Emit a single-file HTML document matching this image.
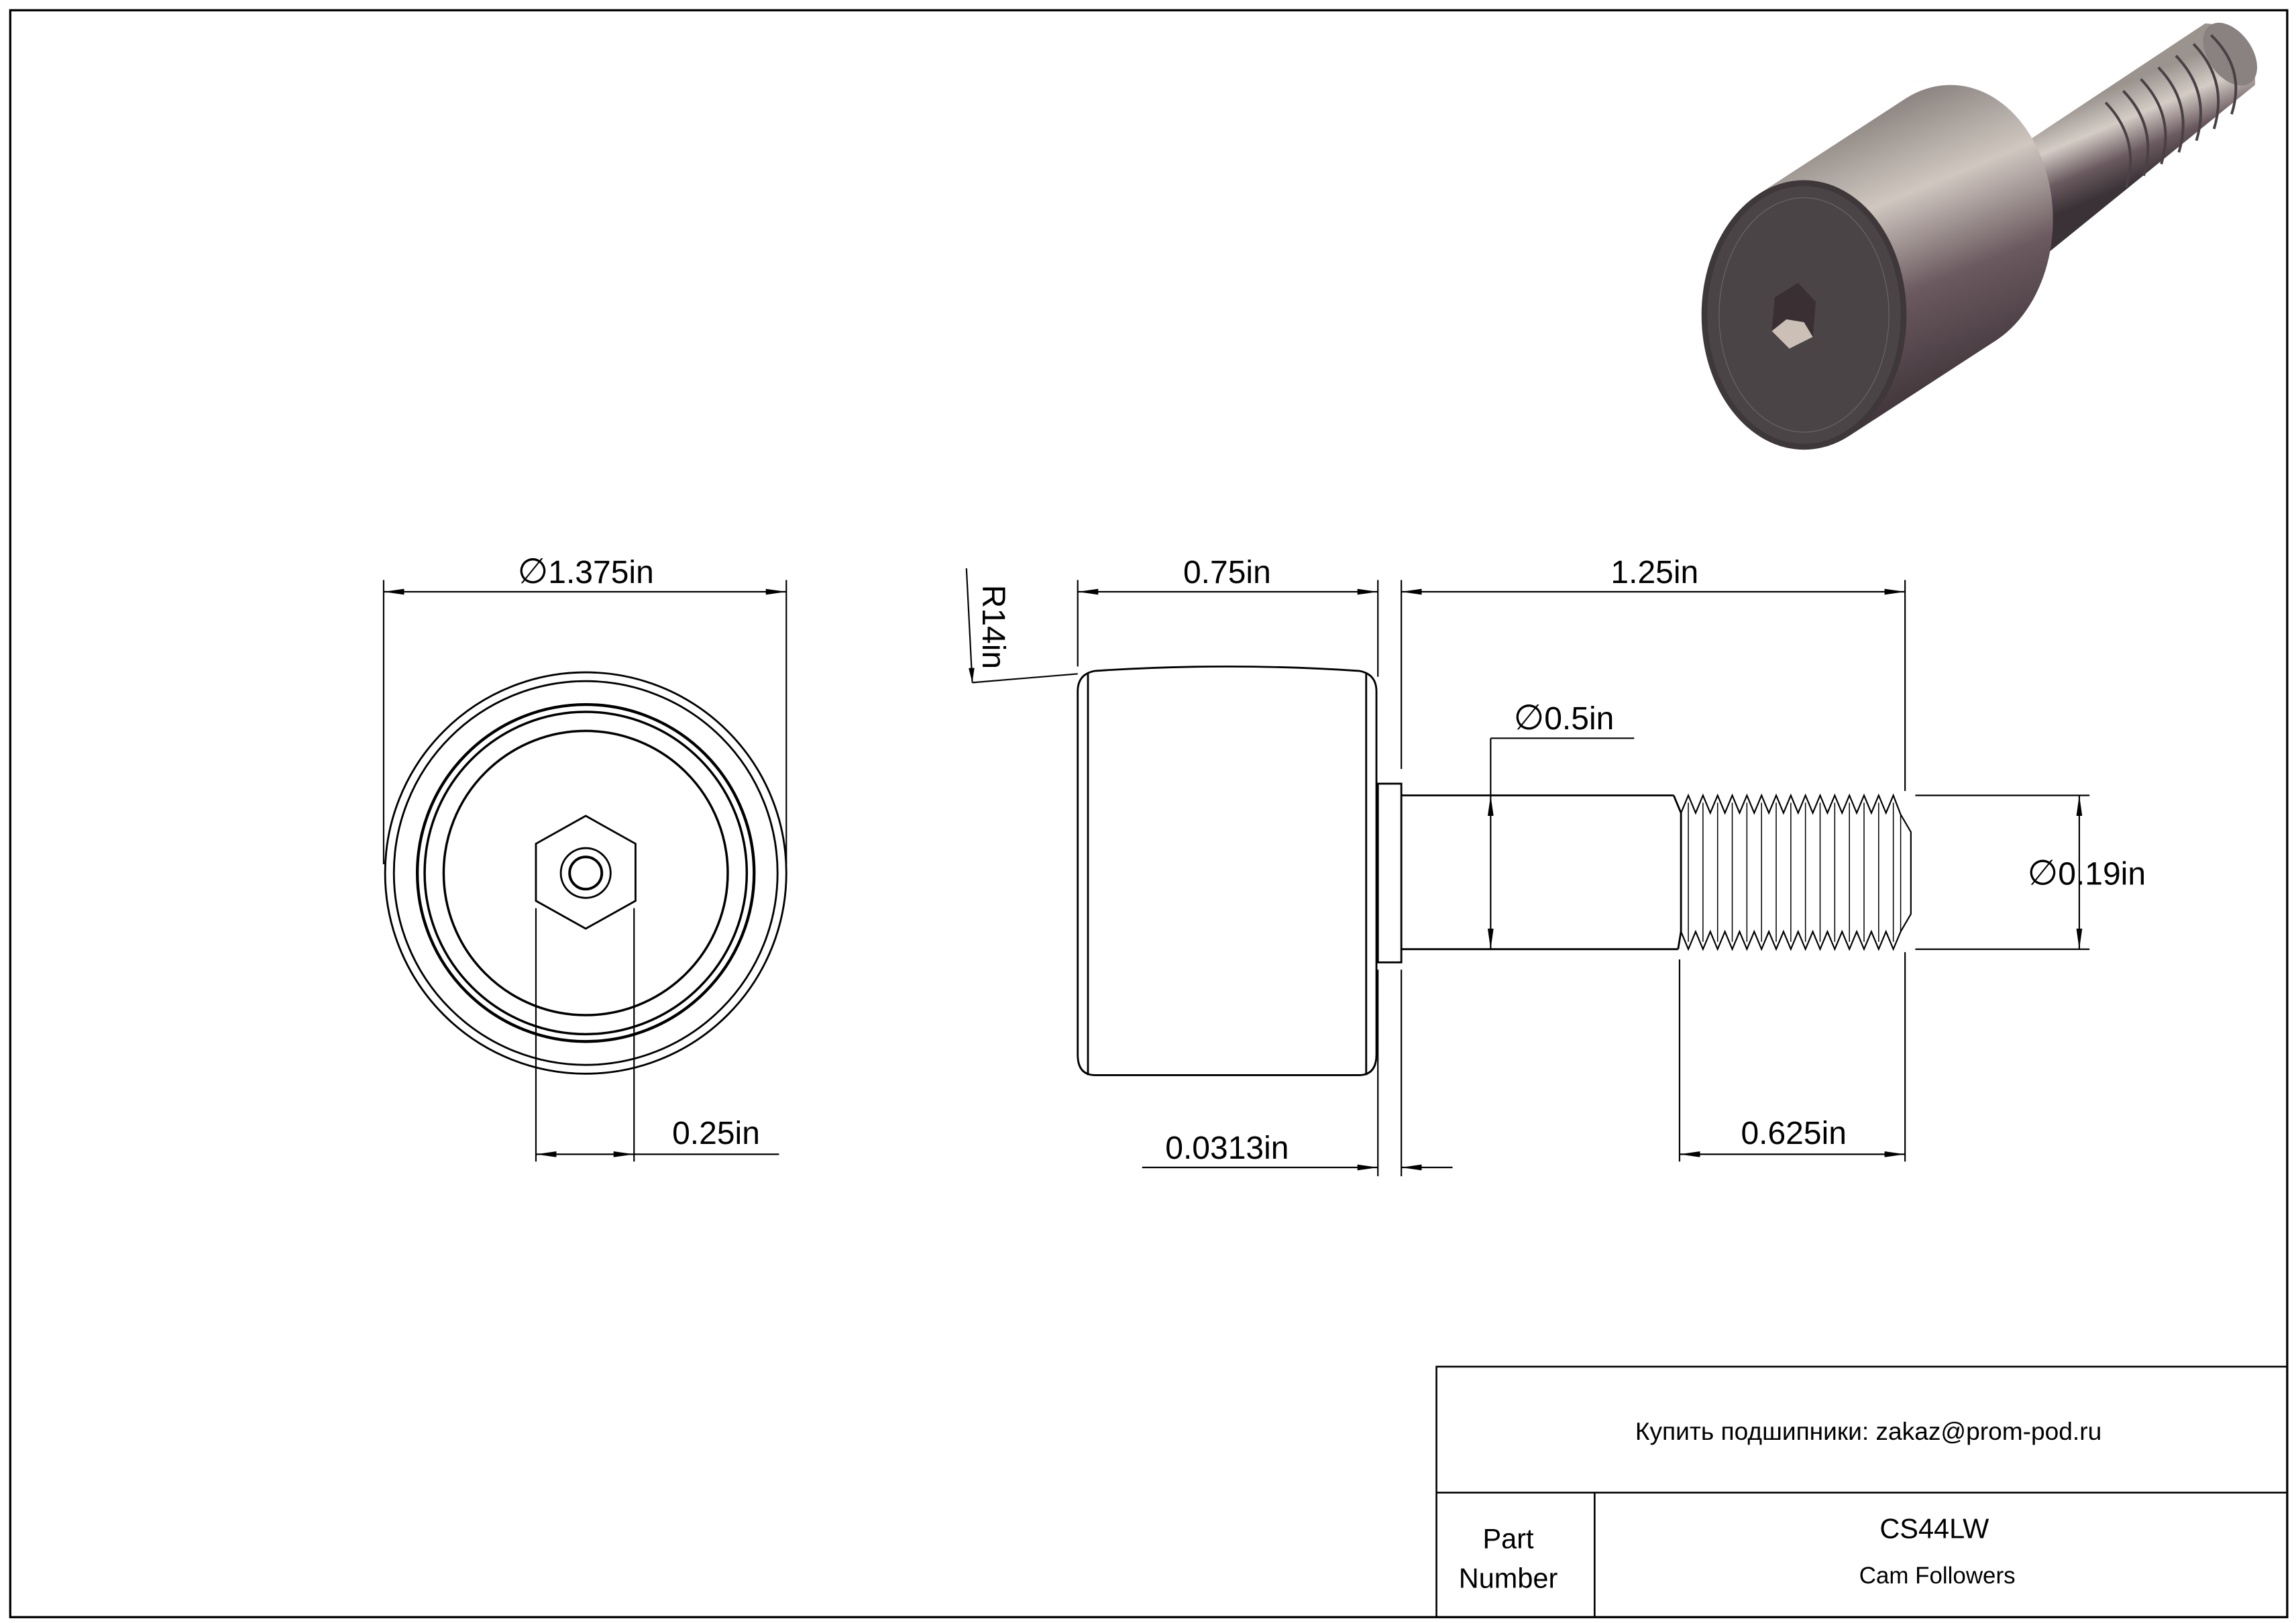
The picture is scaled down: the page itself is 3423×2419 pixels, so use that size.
<!DOCTYPE html>
<html><head><meta charset="utf-8"><style>html,body{margin:0;padding:0;background:#fff}svg{display:block}</style></head>
<body>
<svg width="3423" height="2419" viewBox="0 0 1568 1108" preserveAspectRatio="none" xmlns="http://www.w3.org/2000/svg" font-family="Liberation Sans, sans-serif">
<defs>
<linearGradient id="gb" gradientUnits="userSpaceOnUse" x1="1190" y1="110" x2="1270" y2="305">
<stop offset="0" stop-color="#8a837f"/><stop offset="0.3" stop-color="#d0c7c0"/><stop offset="0.6" stop-color="#6b5a60"/><stop offset="1" stop-color="#3a3035"/></linearGradient>
<linearGradient id="gs" gradientUnits="userSpaceOnUse" x1="1420" y1="70" x2="1445" y2="130">
<stop offset="0" stop-color="#9a938e"/><stop offset="0.35" stop-color="#d4ccc5"/><stop offset="0.7" stop-color="#6a5a60"/><stop offset="1" stop-color="#3a3236"/></linearGradient>
<marker id="a" viewBox="0 0 10 4" refX="10" refY="2" markerWidth="10" markerHeight="4" orient="auto-start-reverse" markerUnits="userSpaceOnUse"><path d="M0 0L10 2L0 4z" fill="#000"/></marker>
<marker id="b" viewBox="0 0 14 4" refX="14" refY="2" markerWidth="14" markerHeight="4" orient="auto-start-reverse" markerUnits="userSpaceOnUse"><path d="M0 0L14 2L0 4z" fill="#000"/></marker>
</defs>
<rect x="7" y="7" width="1555" height="1097" fill="none" stroke="#000" stroke-width="1.5"/>
<g stroke="#000" stroke-width="1.2" fill="none">
<rect x="981" y="933" width="581" height="171"/>
<line x1="981" y1="1019" x2="1562" y2="1019"/>
<line x1="1089" y1="1019" x2="1089" y2="1104"/>
</g>
<g fill="#000" text-anchor="middle">
<text x="1276" y="983" font-size="17">Купить подшипники: zakaz@prom-pod.ru</text>
<text x="1030" y="1057" font-size="19">Part</text>
<text x="1030" y="1084" font-size="19">Number</text>
<text x="1321" y="1050" font-size="19">CS44LW</text>
<text x="1323" y="1081" font-size="16">Cam Followers</text>
</g>
<g>
<path d="M1352 118 L1506 16 Q1542 18 1540 58 L1392 178 Z" fill="url(#gs)"/>
<ellipse cx="1523" cy="37" rx="15" ry="24" transform="rotate(-35 1523 37)" fill="#8a8280"/>
<g stroke="#4a4045" stroke-width="1.8" fill="none">
<path d="M1438 70 Q1462 95 1452 128"/><path d="M1450 62 Q1474 87 1464 120"/><path d="M1462 54 Q1486 79 1476 112"/><path d="M1474 46 Q1498 71 1488 104"/><path d="M1486 38 Q1510 63 1500 96"/><path d="M1498 30 Q1522 55 1512 88"/><path d="M1510 24 Q1534 47 1524 78"/>
</g>
<ellipse cx="1332" cy="150" rx="70" ry="92" fill="url(#gb)"/>
<polygon points="1201,132.5 1301,67.5 1363,232.5 1263,297.5" fill="url(#gb)"/>
<ellipse cx="1232" cy="215" rx="70" ry="92" fill="#3e383a"/>
<ellipse cx="1232" cy="215" rx="66" ry="88" fill="#4a4446"/>
<ellipse cx="1232" cy="215" rx="58" ry="80" fill="none" stroke="#6a6264" stroke-width="0.6"/>
<path d="M1212 203 L1228 193 L1240 206 L1238 230 L1222 238 L1210 226 Z" fill="#3a3034"/>
<path d="M1210 226 L1222 238 L1238 230 L1232 220 L1220 218 Z" fill="#cbbfb6"/>
</g>
<g stroke="#000" fill="none" stroke-width="1.3">
<circle cx="400" cy="596" r="137"/>
<circle cx="400" cy="596" r="131"/>
<circle cx="400" cy="596" r="115" stroke-width="2"/>
<circle cx="400" cy="596" r="110" stroke-width="1.6"/>
<circle cx="400" cy="596" r="97" stroke-width="1.6"/>
<path d="M400 557 L434 576 L434 615 L400 634 L366 615 L366 576 Z"/>
<circle cx="400" cy="596" r="17"/>
<circle cx="400" cy="596" r="11" stroke-width="1.8"/>
<g stroke-width="1">
<line x1="366" y1="620" x2="366" y2="793"/><line x1="433" y1="620" x2="433" y2="793"/>
<line x1="366" y1="788" x2="433" y2="788" marker-start="url(#b)" marker-end="url(#b)"/>
<line x1="433" y1="788" x2="532" y2="788"/>
<line x1="262" y1="396" x2="262" y2="590"/><line x1="537" y1="396" x2="537" y2="590"/>
<line x1="262" y1="404" x2="537" y2="404" marker-start="url(#b)" marker-end="url(#b)"/>
</g>
</g>
<g fill="#000" font-size="22" text-anchor="middle">
<text x="400" y="398"><tspan font-family="DejaVu Sans, sans-serif" font-size="24">∅</tspan>1.375in</text>
<text x="489" y="781">0.25in</text>
<text x="838" y="398">0.75in</text>
<text x="1130" y="398">1.25in</text>
<text x="1068" y="498"><tspan font-family="DejaVu Sans, sans-serif" font-size="24">∅</tspan>0.5in</text>
<text x="1425" y="604"><tspan font-family="DejaVu Sans, sans-serif" font-size="24">∅</tspan>0.19in</text>
<text x="1225" y="781">0.625in</text>
<text x="838" y="791">0.0313in</text>
<text x="0" y="0" transform="translate(671,428) rotate(90)">R14in</text>
</g>
<g stroke="#000" fill="none" stroke-width="1.3">
<path d="M748 458 Q838 452 928 458 Q940 460 940 472 L940 720 Q940 734 928 734 L748 734 Q736 734 736 720 L736 472 Q736 460 748 458 Z"/>
<line x1="743" y1="460" x2="743" y2="734"/><line x1="933" y1="460" x2="933" y2="734"/>
<rect x="941" y="535" width="16" height="122"/>
<path d="M957 543 L1143 543 M957 648 L1146 648"/>
<path d="M1143 543 L1148 555 L1148 636 L1146 648"/>
<path d="M1148 555 L1153 543 L1158 555 L1163 543 L1168 555 L1173 543 L1178 555 L1183 543 L1188 555 L1193 543 L1198 555 L1203 543 L1208 555 L1213 543 L1218 555 L1223 543 L1228 555 L1233 543 L1238 555 L1243 543 L1248 555 L1253 543 L1258 555 L1263 543 L1268 555 L1273 543 L1278 555 L1283 543 L1288 555 L1293 543 L1298 556 L1305 568 L1305 624 L1298 636 L1293 648 L1288 636 L1283 648 L1278 636 L1273 648 L1268 636 L1263 648 L1258 636 L1253 648 L1248 636 L1243 648 L1238 636 L1233 648 L1228 636 L1223 648 L1218 636 L1213 648 L1208 636 L1203 648 L1198 636 L1193 648 L1188 636 L1183 648 L1178 636 L1173 648 L1168 636 L1163 648 L1158 636 L1153 648 L1148 636" stroke-width="1"/>
<g stroke-width="0.7">
<line x1="1153" y1="548" x2="1153" y2="643"/><line x1="1163" y1="548" x2="1163" y2="643"/><line x1="1173" y1="548" x2="1173" y2="643"/><line x1="1183" y1="548" x2="1183" y2="643"/><line x1="1193" y1="548" x2="1193" y2="643"/><line x1="1203" y1="548" x2="1203" y2="643"/><line x1="1213" y1="548" x2="1213" y2="643"/><line x1="1223" y1="548" x2="1223" y2="643"/><line x1="1233" y1="548" x2="1233" y2="643"/><line x1="1243" y1="548" x2="1243" y2="643"/><line x1="1253" y1="548" x2="1253" y2="643"/><line x1="1263" y1="548" x2="1263" y2="643"/><line x1="1273" y1="548" x2="1273" y2="643"/><line x1="1283" y1="548" x2="1283" y2="643"/><line x1="1293" y1="548" x2="1293" y2="643"/><line x1="1298" y1="556" x2="1298" y2="636"/>
</g>
<g stroke-width="1">
<line x1="736" y1="396" x2="736" y2="455"/>
<line x1="941" y1="396" x2="941" y2="462"/>
<line x1="957" y1="396" x2="957" y2="525"/>
<line x1="1301" y1="396" x2="1301" y2="540"/>
<line x1="941" y1="662" x2="941" y2="803"/>
<line x1="957" y1="662" x2="957" y2="803"/>
<line x1="1147" y1="655" x2="1147" y2="793"/>
<line x1="1301" y1="650" x2="1301" y2="793"/>
<line x1="736" y1="404" x2="941" y2="404" marker-start="url(#b)" marker-end="url(#b)"/>
<line x1="957" y1="404" x2="1301" y2="404" marker-start="url(#b)" marker-end="url(#b)"/>
<line x1="1147" y1="788" x2="1301" y2="788" marker-start="url(#b)" marker-end="url(#b)"/>
<line x1="780" y1="797" x2="941" y2="797" marker-end="url(#b)"/>
<line x1="992" y1="797" x2="957" y2="797" marker-end="url(#b)"/>
<line x1="1018" y1="504" x2="1116" y2="504"/>
<line x1="1018" y1="504" x2="1018" y2="543"/>
<line x1="1018" y1="543" x2="1018" y2="648" marker-start="url(#b)" marker-end="url(#b)"/>
<line x1="1308" y1="543" x2="1427" y2="543"/>
<line x1="1308" y1="648" x2="1427" y2="648"/>
<line x1="1420" y1="543" x2="1420" y2="648" marker-start="url(#b)" marker-end="url(#b)"/>
<line x1="660" y1="388" x2="664" y2="466" marker-end="url(#a)"/>
<line x1="664" y1="466" x2="736" y2="460"/>
</g>
</g>
</svg>
</body></html>
